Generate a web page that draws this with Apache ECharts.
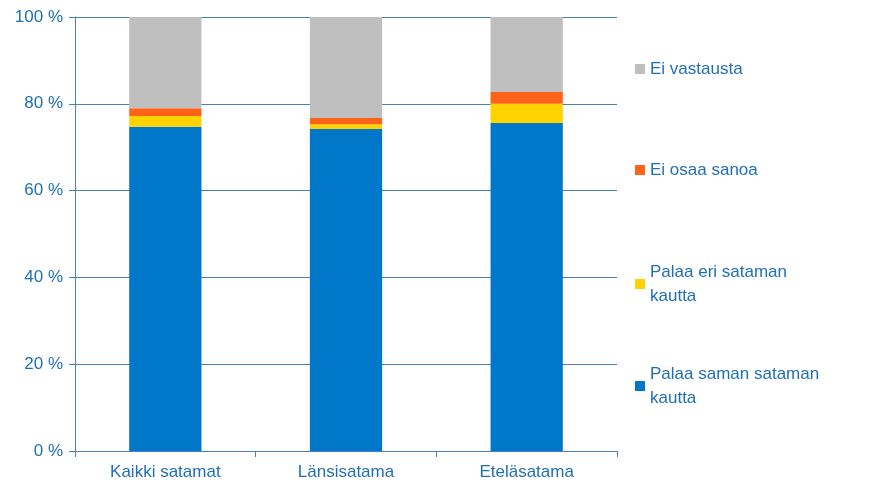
<!DOCTYPE html><html><head><meta charset="utf-8"><script src="https://cdn.jsdelivr.net/npm/echarts@6/dist/echarts.min.js"></script></head><body style="margin:0"><div id="c" style="width:894px;height:491px"></div><script>
const categories=['Kaikki satamat','Länsisatama','Eteläsatama'];
const sameHarbour=[74.7,74.2,75.6];
const otherHarbour=[2.5,1.1,4.4];
const dontKnow=[1.8,1.4,2.7];
const noAnswer=[21.0,23.3,17.3];
const names=['Palaa saman sataman\nkautta','Palaa eri sataman\nkautta','Ei osaa sanoa','Ei vastausta'];
const colors=['#0077C8','#FFD200','#FF6319','#BFBFBF'];
const txt='#1F6FB5',ax='#4A7EBB';
const data=[sameHarbour,otherHarbour,dontKnow,noAnswer];
const legTops=[357,255,153,52];
const ch=echarts.init(document.getElementById('c'));
ch.setOption({animation:false,
grid:{left:75,right:277,top:17,bottom:40},
legend:names.map((n,i)=>({data:[n],left:630,top:legTops[i],itemWidth:10,itemHeight:10,icon:'rect',textStyle:{color:txt,fontSize:17,fontFamily:'Liberation Sans, Arial',lineHeight:24}})),
xAxis:{type:'category',data:categories,axisLine:{lineStyle:{color:ax}},axisTick:{show:true,length:6,lineStyle:{color:ax}},axisLabel:{color:txt,fontSize:17,fontFamily:'Liberation Sans, Arial',margin:13}},
yAxis:{type:'value',min:0,max:100,interval:20,axisLine:{show:true,lineStyle:{color:ax}},axisTick:{show:true,length:6,lineStyle:{color:ax}},splitLine:{lineStyle:{color:ax}},axisLabel:{color:txt,fontSize:17,fontFamily:'Liberation Sans, Arial',formatter:'{value} %',margin:12}},
series:data.map((d,i)=>({name:names[i],type:'bar',stack:'s',data:d,barWidth:'40%',itemStyle:{color:colors[i]}}))
});
</script></body></html>
